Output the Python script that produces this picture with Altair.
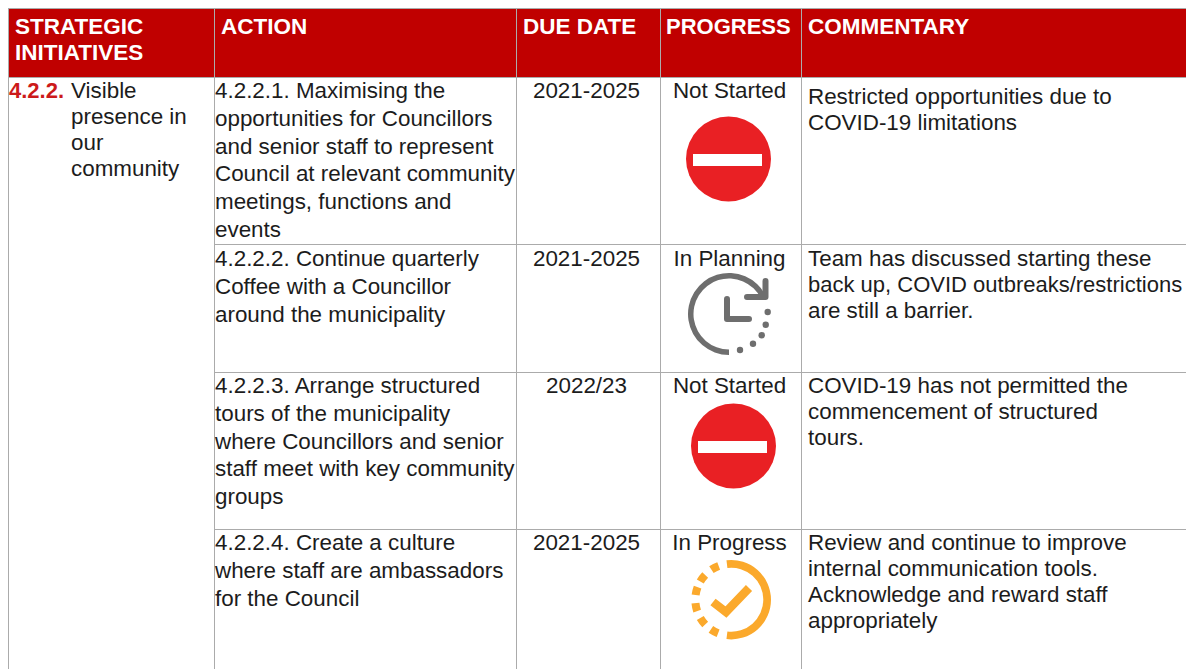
import math
import altair as alt
import pandas as pd

FONT = "Liberation Sans"
RED = "#C00000"
GRID = "#ababab"
INK = "#1c1c1c"
GREY = "#6e6e6e"
AMBER = "#FBA92C"
STOP = "#E92024"

headers = [["STRATEGIC", "INITIATIVES"], ["ACTION"], ["DUE DATE"], ["PROGRESS"], ["COMMENTARY"]]
initiative_no = "4.2.2."
initiative = ["Visible", "presence in", "our", "community"]
actions = [
    ["4.2.2.1. Maximising the", "opportunities for Councillors", "and senior staff to represent",
     "Council at relevant community", "meetings, functions and", "events"],
    ["4.2.2.2. Continue quarterly", "Coffee with a Councillor", "around the municipality"],
    ["4.2.2.3. Arrange structured", "tours of the municipality", "where Councillors and senior",
     "staff meet with key community", "groups"],
    ["4.2.2.4. Create a culture", "where staff are ambassadors", "for the Council"],
]
due_dates = ["2021-2025", "2021-2025", "2022/23", "2021-2025"]
progress = ["Not Started", "In Planning", "Not Started", "In Progress"]
commentary = [
    ["Restricted opportunities due to", "COVID-19 limitations"],
    ["Team has discussed starting these", "back up, COVID outbreaks/restrictions", "are still a barrier."],
    ["COVID-19 has not permitted the", "commencement of structured", "tours."],
    ["Review and continue to improve", "internal communication tools.", "Acknowledge and reward staff", "appropriately"],
]

# layout (screen pixels); the page limits the svg to 1178 wide
R, H = 1186, 669
col_x = [8, 214, 516, 660, 801]
row_tops = [91, 259, 386, 543]
comment_tops = [97, 259, 386, 543]
ACTION_PITCH, COMMENT_PITCH = 27.8, 26
BODY = 22.4
HEAD = 22.5
TIGHT = 22.0   # lines that would otherwise run off the right edge or overshoot

X = alt.X("x:Q", scale=alt.Scale(domain=[8, R], range=[0, R - 8]), axis=None)
Y = alt.Y("y:Q", scale=alt.Scale(domain=[8, H], range=[0, H - 8]), axis=None)
X2, Y2 = alt.X2("x2:Q"), alt.Y2("y2:Q")


def text_layer(rows, size=BODY, weight="normal", color=INK, align="left"):
    return alt.Chart(pd.DataFrame(rows)).mark_text(
        font=FONT, fontSize=size, fontWeight=weight, color=color, align=align, baseline="middle"
    ).encode(x=X, y=Y, text="t:N")


def block(lines, x, top, pitch):
    return [{"x": x, "y": top + i * pitch, "t": s} for i, s in enumerate(lines)]


def rect_layer(rows, color):
    return alt.Chart(pd.DataFrame(rows)).mark_rect(color=color).encode(x=X, x2=X2, y=Y, y2=Y2)


def arc_layer(rows, color):
    return alt.Chart(pd.DataFrame(rows)).mark_arc(color=color).encode(
        x=X, y=Y,
        theta=alt.Theta("a:Q", scale=None), theta2=alt.Theta2("b:Q"),
        radius=alt.Radius("r:Q", scale=None), radius2=alt.Radius2("r2:Q"),
    )


def poly_layer(rows, color, width, cap):
    return alt.Chart(pd.DataFrame(rows)).mark_line(
        color=color, strokeWidth=width, strokeCap=cap, strokeJoin="miter" if cap == "butt" else "round"
    ).encode(x=X, y=Y, detail="g:N", order="o:Q")


def path(g, pts):
    return [{"x": x, "y": y, "g": g, "o": i} for i, (x, y) in enumerate(pts)]


def arc(cx, cy, a, b, r, r2):
    return {"x": cx, "y": cy, "a": math.radians(a), "b": math.radians(b), "r": r, "r2": r2}


layers = []

# header band
layers.append(rect_layer([{"x": 8, "x2": R, "y": 8, "y2": 77}], RED))

# grid
rules = [
    {"x": 8, "x2": R, "y": 8.5, "y2": 8.5},
    {"x": 8, "x2": R, "y": 77.5, "y2": 77.5},
    {"x": 214, "x2": R, "y": 244.5, "y2": 244.5},
    {"x": 214, "x2": R, "y": 372.5, "y2": 372.5},
    {"x": 214, "x2": R, "y": 529.5, "y2": 529.5},
]
for cx in col_x:
    rules.append({"x": cx + 0.5, "x2": cx + 0.5, "y": 8, "y2": H})
layers.append(alt.Chart(pd.DataFrame(rules)).mark_rule(color=GRID, strokeWidth=1).encode(x=X, x2=X2, y=Y, y2=Y2))

# header text
head_rows = []
tight_head = []
head_x = [15, 221, 523, 666, 808]
for hx, lines in zip(head_x, headers):
    target = tight_head if lines == ["PROGRESS"] else head_rows
    target += block(lines, hx, 27, 26)
layers.append(text_layer(head_rows, size=HEAD, weight="bold", color="white"))
layers.append(text_layer(tight_head, size=TIGHT, weight="bold", color="white"))

# first column
layers.append(text_layer([{"x": 9, "y": 91, "t": initiative_no}], size=TIGHT, weight="bold", color="#CC1A1A"))
body = block(initiative, 71, 91, 26)

# action and commentary
for top, ctop, a, c in zip(row_tops, comment_tops, actions, commentary):
    body += block(a, 215, top, ACTION_PITCH)
    body += block(c, 808, ctop, COMMENT_PITCH)
long_lines = [r for r in body if r["x"] == 808 and len(r["t"]) > 35]
body = [r for r in body if r not in long_lines]
layers.append(text_layer(body))
layers.append(text_layer(long_lines, size=TIGHT))

# centred columns
center = []
for top, d, p in zip(row_tops, due_dates, progress):
    center.append({"x": 586.5, "y": top, "t": d})
    center.append({"x": 729.5, "y": top, "t": p})
layers.append(text_layer(center, align="center"))

# no-entry icons (a circle symbol's diameter is the square root of its size)
stops = [{"x": 728.5, "y": 159}, {"x": 733.5, "y": 446}]
layers.append(alt.Chart(pd.DataFrame(stops)).mark_circle(color=STOP, opacity=1, size=85 ** 2).encode(x=X, y=Y))
layers.append(rect_layer([
    {"x": 693, "x2": 762, "y": 154, "y2": 166},
    {"x": 698, "x2": 767, "y": 441, "y2": 453},
], "white"))

# in-planning clock icon
layers.append(arc_layer([arc(729, 314, 180, 424, 41, 35.5)], GREY))
layers.append(poly_layer(
    path("head", [(765.5, 281), (765.5, 297), (747, 297)]) + path("hands", [(727, 299), (727, 319), (749, 319)]),
    GREY, 6, "round"))
clock_dots = [{"x": 767.7, "y": 312}, {"x": 765.7, "y": 324.7}, {"x": 761.7, "y": 335.3},
              {"x": 753, "y": 343.7}, {"x": 740, "y": 350}]
layers.append(alt.Chart(pd.DataFrame(clock_dots)).mark_circle(color=GREY, opacity=1, size=6.4 ** 2).encode(x=X, y=Y))

# in-progress check icon
ck = (731.3, 599.7)
dash = [208, 233, 258, 284, 307, 333]
layers.append(arc_layer([arc(*ck, -7, 187, 39.7, 32)] + [arc(*ck, d - 6.5, d + 6.5, 40, 32) for d in dash], AMBER))
layers.append(poly_layer(path("check", [(713, 602), (726, 612), (749, 588)]), AMBER, 8.5, "butt"))

chart = alt.layer(*layers).properties(
    width=R - 8, height=H - 8, padding=0, autosize=alt.AutoSizeParams(type="none"),
    background="white",
).configure_view(stroke=None)

chart.save("out.html", embed_options={"renderer": "svg", "actions": False})
